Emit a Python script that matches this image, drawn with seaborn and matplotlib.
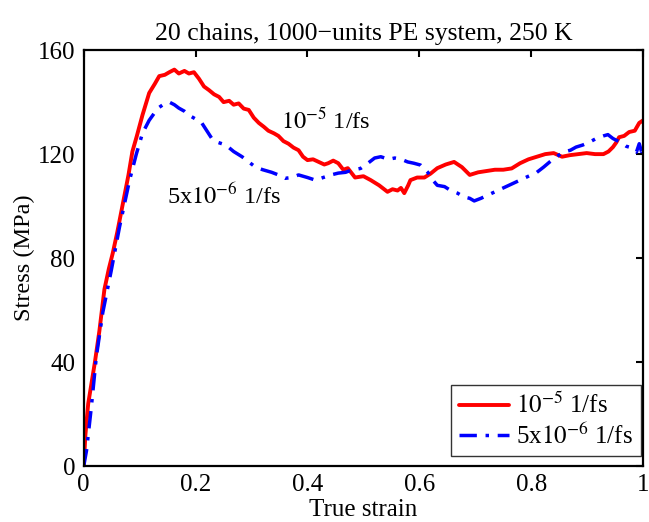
import matplotlib
matplotlib.use("Agg")
import matplotlib.pyplot as plt
import seaborn as sns
import pandas as pd

red_x = [0, 0.003, 0.008, 0.014, 0.02, 0.028, 0.037, 0.045, 0.052, 0.06, 0.07, 0.08, 0.087, 0.095,
         0.105, 0.117, 0.127, 0.135, 0.145, 0.153, 0.162, 0.17, 0.18, 0.188, 0.197, 0.206, 0.215,
         0.224, 0.233, 0.242, 0.25, 0.26, 0.268, 0.277, 0.286, 0.295, 0.304, 0.313, 0.322, 0.33,
         0.34, 0.348, 0.357, 0.366, 0.375, 0.384, 0.392, 0.4, 0.41, 0.42, 0.43, 0.437, 0.446, 0.455,
         0.464, 0.472, 0.485, 0.5, 0.513, 0.528, 0.543, 0.552, 0.561, 0.567, 0.573, 0.58, 0.584,
         0.596, 0.609, 0.62, 0.632, 0.647, 0.662, 0.676, 0.69, 0.705, 0.72, 0.735, 0.75, 0.765,
         0.78, 0.795, 0.81, 0.825, 0.84, 0.855, 0.869, 0.884, 0.899, 0.914, 0.929, 0.938, 0.946,
         0.952, 0.957, 0.966, 0.975, 0.985, 0.993, 1.0]
red_y = [0, 12, 24, 32, 40, 52, 68, 76, 82, 90, 101, 112, 121, 127,
         135, 143.5, 147, 150, 150.5, 151.5, 152.5, 151, 152, 151, 151.5, 149, 146,
         144.6, 143, 142, 140, 140.5, 139, 139.5, 137.5, 137, 134, 132, 130.5, 129,
         128, 127, 125, 124, 122.5, 121.5, 119, 117.7, 118, 117, 116, 116.5, 117.5, 116.5,
         114, 114.6, 111, 111.5, 110, 108, 105.5, 106.5, 106, 107, 105, 108, 110,
         111, 111, 112.5, 114.6, 116, 117, 115, 112, 113, 113.5, 114, 114, 114.5,
         116.5, 118, 119, 120, 120.4, 119, 119.6, 120, 120.4, 120, 120, 121, 122.7,
         124.5, 126.5, 127, 128.5, 129, 132, 133]

blue_x = [0, 0.005, 0.0136, 0.0225, 0.034, 0.049, 0.064, 0.082, 0.094, 0.105, 0.117, 0.127, 0.135,
          0.145, 0.153, 0.162, 0.17, 0.18, 0.188, 0.2, 0.211, 0.22, 0.229, 0.24, 0.254, 0.268,
          0.283, 0.295, 0.307, 0.32, 0.336, 0.348, 0.36, 0.372, 0.384, 0.4, 0.414, 0.428, 0.442,
          0.455, 0.468, 0.478, 0.495, 0.508, 0.52, 0.531, 0.545, 0.556, 0.568, 0.579, 0.59, 0.602,
          0.615, 0.624, 0.632, 0.645, 0.656, 0.668, 0.68, 0.69, 0.698, 0.71, 0.72, 0.735, 0.75,
          0.765, 0.78, 0.795, 0.81, 0.822, 0.833, 0.845, 0.858, 0.87, 0.88, 0.892, 0.904, 0.916,
          0.929, 0.937, 0.946, 0.955, 0.964, 0.97, 0.975, 0.982, 0.988, 0.993, 0.997, 1.0]
blue_y = [0, 6, 22.7, 42, 59, 75, 92, 110, 120, 128, 133, 136, 138,
          139.5, 140, 139, 137.7, 136.5, 135, 133.5, 132, 129, 126, 124.5, 123.5, 121,
          119, 117, 115, 114, 113, 112, 110.7, 111, 112, 111, 110, 111, 112,
          112.7, 113, 113.8, 114.5, 116.5, 118.5, 119, 118, 118.5, 118, 117, 116.5, 115.8,
          113, 110, 108, 107.5, 106, 105, 103.5, 103, 102, 103, 104, 105.5, 107,
          108.5, 110, 111.5, 113, 115, 117, 119, 120.8, 121.5, 122.7, 123.5, 124.6, 126,
          127, 127.5, 126, 125, 124, 123, 122.7, 121.5, 120.8, 124, 121, 124]

labels = [r"$10^{-5}$ 1/fs", r"5x$10^{-6}$ 1/fs"]
title = "20 chains, 1000\u2212units PE system, 250 K"
xlabel = "True strain"
ylabel = "Stress (MPa)"
xticks = [0, 0.2, 0.4, 0.6, 0.8, 1]
xticklabels = ["0", "0.2", "0.4", "0.6", "0.8", "1"]
yticks = [0, 40, 80, 120, 160]

sns.set_style("white")
plt.rcParams["font.family"] = ["Liberation Serif", "DejaVu Serif"]
plt.rcParams["mathtext.fontset"] = "stix"
for k in ["text.color", "axes.labelcolor", "xtick.color", "ytick.color", "axes.edgecolor"]:
    plt.rcParams[k] = "black"

df_red = pd.DataFrame({"x": red_x, "y": red_y})
df_blue = pd.DataFrame({"x": blue_x, "y": blue_y})

fig = plt.figure(figsize=(6.49, 5.22), dpi=100)
ax = fig.add_axes([0.129, 0.107, 0.862, 0.797])

sns.lineplot(data=df_red, x="x", y="y", ax=ax, color="#ff0000", linewidth=2.8,
             sort=False, estimator=None, label=labels[0])
sns.lineplot(data=df_blue, x="x", y="y", ax=ax, color="#0000ff", linewidth=2.5,
             sort=False, estimator=None, label=labels[1], dashes=False)
ax.lines[1].set_linestyle((0, (5, 2.5, 1, 2.5)))

ax.set_xlim(0, 1)
ax.set_ylim(0, 160)
ax.set_xticks(xticks)
ax.set_xticklabels(xticklabels)
ax.set_yticks(yticks)
ax.tick_params(direction="in", length=5, width=1.5, top=True, right=True,
               labelsize=18, pad=6, colors="black")
for s in ax.spines.values():
    s.set_linewidth(1.6)
    s.set_color("black")

ax.set_title(title, fontsize=18.5, pad=7)
ax.set_xlabel(xlabel, fontsize=18, labelpad=2)
ax.set_ylabel(ylabel, fontsize=17.5, labelpad=2)

ax.text(0.352, 130, labels[0], fontsize=17.5)
ax.text(0.149, 101, labels[1], fontsize=17.5)

leg = ax.legend(loc="lower right", bbox_to_anchor=(0.996, 0.024), fontsize=18,
                frameon=True, fancybox=False, edgecolor="black", handlelength=2.0,
                borderaxespad=0.0, borderpad=0.3, labelspacing=0.2, handletextpad=0.3)
leg.get_frame().set_linewidth(1.0)
for t in leg.get_texts():
    t.set_color("black")

fig.savefig("out.png", dpi=100)
